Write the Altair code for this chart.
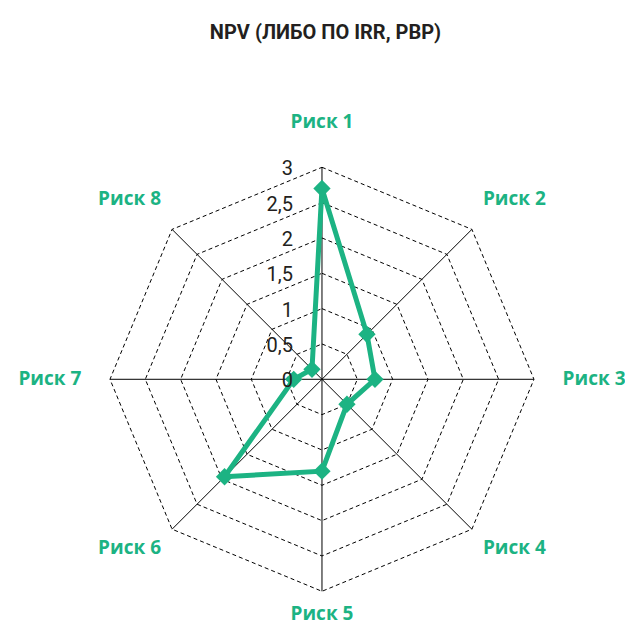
import altair as alt
import pandas as pd

# ---- data ----
categories = ["Риск 1", "Риск 2", "Риск 3", "Риск 4", "Риск 5", "Риск 6", "Риск 7", "Риск 8"]
values = [2.7, 0.9, 0.75, 0.5, 1.3, 1.95, 0.4, 0.2]
grid_levels = [0.5, 1.0, 1.5, 2.0, 2.5, 3.0]
tick_values = [0, 0.5, 1, 1.5, 2, 2.5, 3]
tick_labels = ["0", "0,5", "1", "1,5", "2", "2,5", "3"]
title_text = "NPV (ЛИБО ПО IRR, PBP)"

# ---- style ----
n = len(categories)
r_max = max(grid_levels)
GREEN = "#1cb383"
TICKFONT = "Roboto, Liberation Sans, sans-serif"
TITLEFONT = "Roboto, Liberation Sans, sans-serif"
WIDE = "Open Sans, Liberation Sans, sans-serif"

series_df = pd.DataFrame({"k": list(range(n + 1)), "r": values + values[:1]})
points_df = pd.DataFrame({"k": list(range(n)), "r": values, "cat": categories})
grid_df = pd.DataFrame([{"level": lv, "k": k, "r": lv} for lv in grid_levels for k in range(n + 1)])
spoke_df = pd.DataFrame({"k": list(range(n)), "r": [r_max] * n})
label_df = pd.DataFrame({"k": list(range(n)), "cat": categories})
tick_df = pd.DataFrame({"v": tick_values, "label": tick_labels})

ang = f"(datum.k * 2 * PI / {n})"

xs = alt.Scale(domain=[-4.443, 4.288], nice=False, zero=False)
ys = alt.Scale(domain=[-3.491, 4.405], nice=False, zero=False)


def X(f):
    return alt.X(f, type="quantitative", scale=xs, axis=None)


def Y(f):
    return alt.Y(f, type="quantitative", scale=ys, axis=None)


def polar(ch):
    return ch.transform_calculate(
        x=f"datum.r * sin({ang})", y=f"datum.r * cos({ang})", x0="0", y0="0"
    )


grid = polar(alt.Chart(grid_df)).mark_line(
    color="black", strokeWidth=1, strokeDash=[4, 3]
).encode(x=X("x"), y=Y("y"), detail="level:N", order="k:Q")

spokes = polar(alt.Chart(spoke_df)).mark_rule(color="black", strokeWidth=1).encode(
    x=X("x0"), y=Y("y0"), x2="x:Q", y2="y:Q"
)

line = polar(alt.Chart(series_df)).mark_line(
    color=GREEN, strokeWidth=5, strokeJoin="miter"
).encode(x=X("x"), y=Y("y"), order="k:Q")

pts = polar(alt.Chart(points_df)).mark_point(
    shape="diamond", filled=True, size=300, color=GREEN, opacity=1
).encode(x=X("x"), y=Y("y"))

ticks = alt.Chart(tick_df).transform_calculate(x="0").mark_text(
    align="right", baseline="middle", dx=-29, dy=2, font=TICKFONT, fontSize=20, color="#231f20"
).encode(x=X("x"), y=Y("v"), text="label:N")

labels = alt.Chart(label_df).transform_calculate(
    lx=f"3.85 * sin({ang})",
    ly=f"3.485 * cos({ang}) + 0.16 * pow(cos({ang}), 2)",
).mark_text(
    align="center", baseline="middle", font=WIDE, fontSize=19, fontWeight="bold", color=GREEN
).encode(x=X("lx"), y=Y("ly"), text="cat:N")

chart = alt.layer(grid, spokes, line, pts, ticks, labels).properties(
    width=617,
    height=558,
    title=alt.TitleParams(
        title_text, anchor="middle", font=TITLEFONT, fontSize=20, fontWeight="bold",
        color="#231f20", baseline="alphabetic", offset=9, dx=9, frame="group",
    ),
    autosize=alt.AutoSizeParams(type="none"),
    padding={"left": 0, "top": 60, "right": 0, "bottom": 0},
).configure_view(stroke=None)

chart.save("out.html", embed_options={"renderer": "svg", "actions": False})
